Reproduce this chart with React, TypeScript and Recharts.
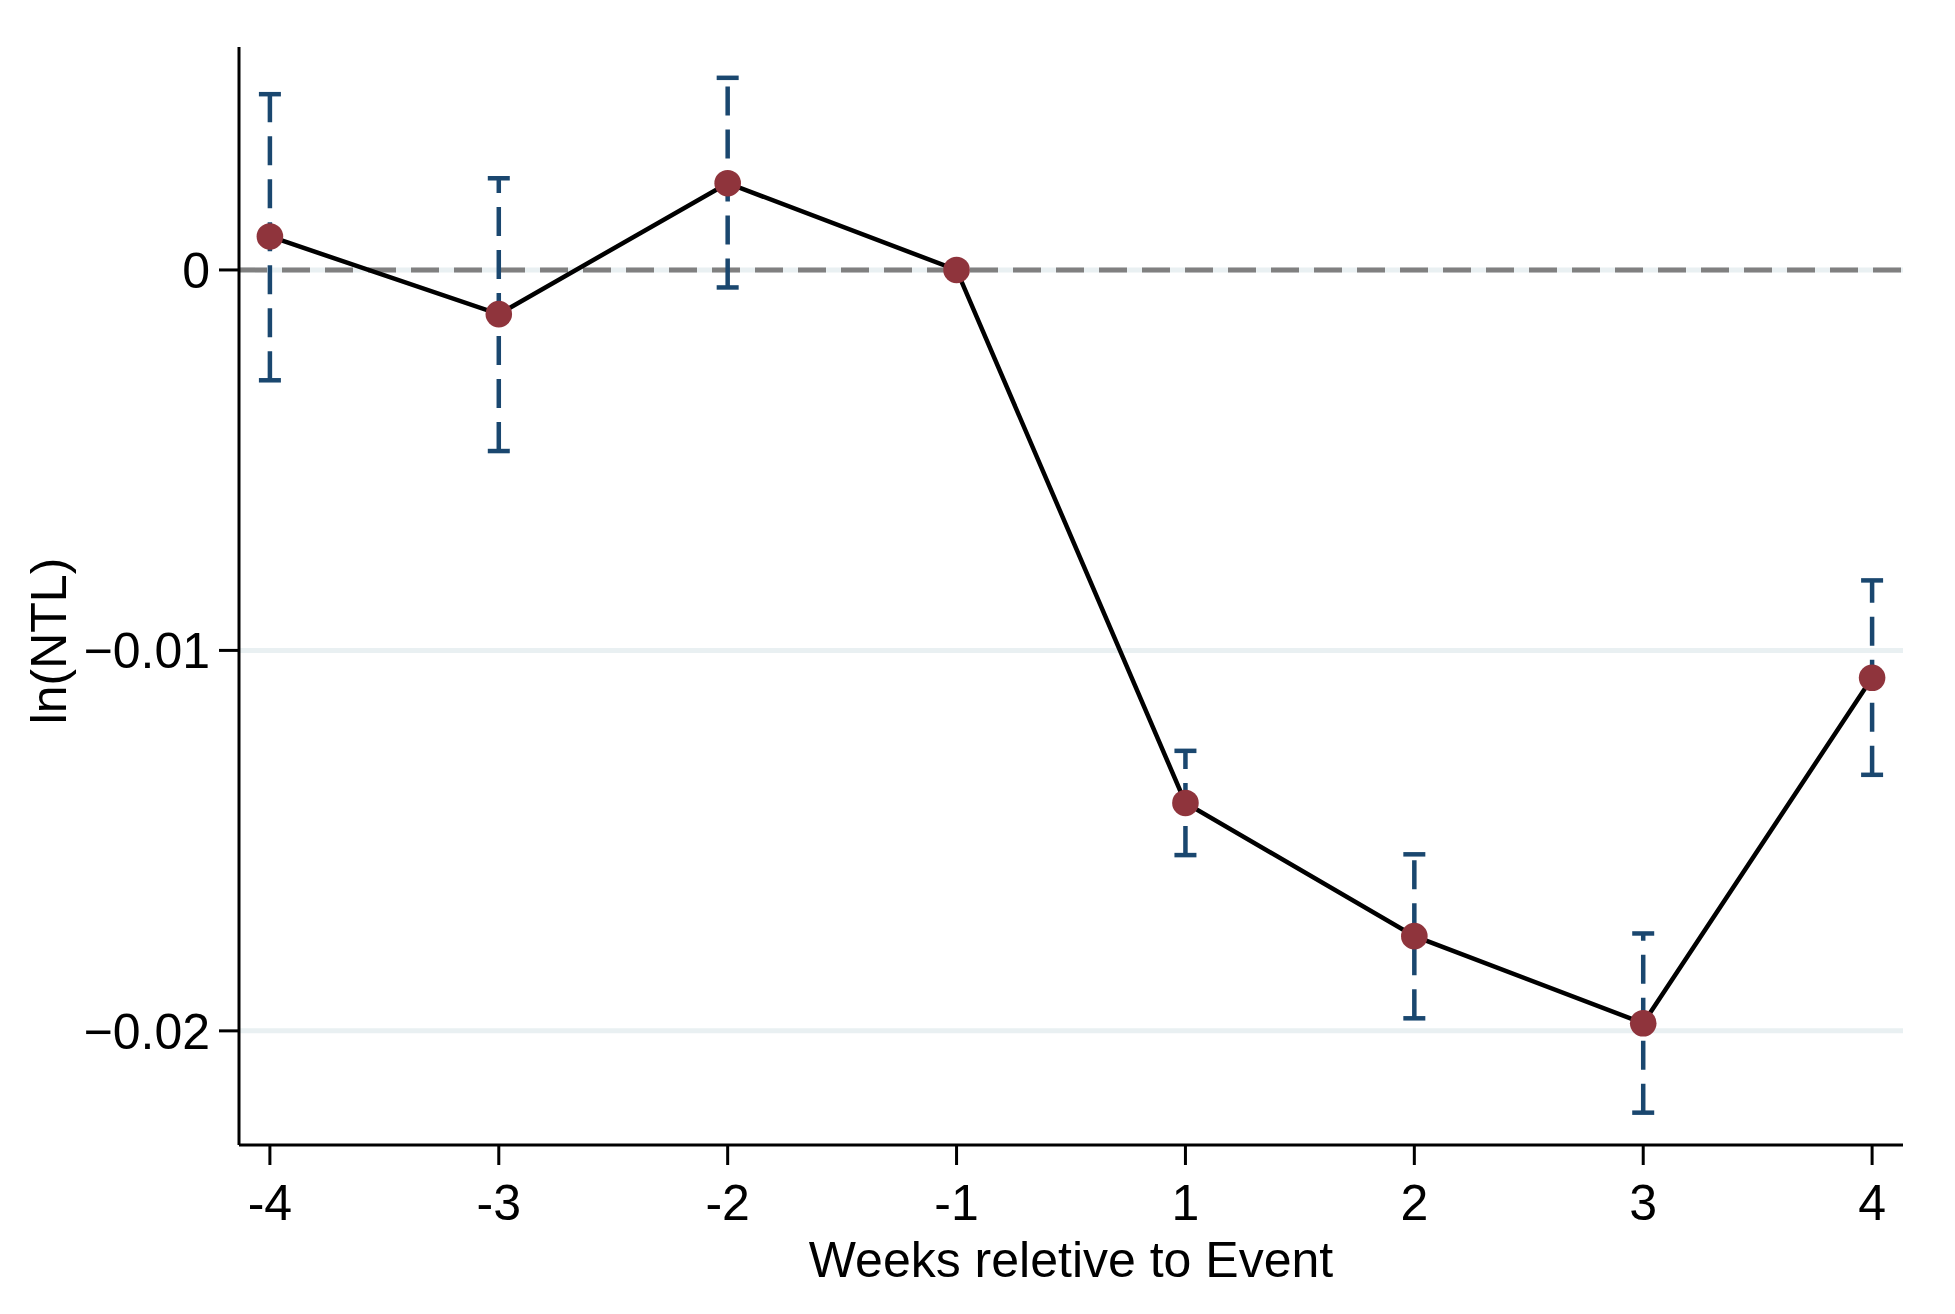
import { LineChart, Line, XAxis, YAxis, CartesianGrid, ReferenceLine, ErrorBar } from "recharts";

const weeks = ["-4", "-3", "-2", "-1", "1", "2", "3", "4"];
const coef = [0.00088, -0.00116, 0.00228, 0, -0.01401, -0.01751, -0.0198, -0.01072];
const ciLow = [-0.0029, -0.00476, -0.00046, 0, -0.01538, -0.01967, -0.02215, -0.01327];
const ciHigh = [0.00462, 0.00241, 0.00505, 0, -0.01264, -0.01536, -0.01744, -0.00816];
const yTicks = [-0.02, -0.01, 0];

const data = weeks.map((w, i) => ({
  idx: i,
  week: w,
  coef: coef[i],
  err: [coef[i] - ciLow[i], ciHigh[i] - coef[i]],
}));

const font = "'Liberation Sans', Arial, sans-serif";

const fmtY = (v: number) => (v === 0 ? "0" : "\u2212" + Math.abs(v).toFixed(2));

const Dot = (props: any) => {
  const { cx, cy } = props;
  if (cx == null || cy == null) return null;
  return <circle cx={cx} cy={cy} r={13.3} fill="#8f343c" />;
};

export default function App() {
  return (
    <div style={{ position: "absolute", left: 0, top: 0, background: "#fff" }}>
      <LineChart
        width={1955}
        height={1314}
        data={data}
        margin={{ top: 47, right: 52, bottom: 0, left: 0 }}
        style={{ fontFamily: font }}
      >
        <CartesianGrid
          horizontal
          vertical={false}
          horizontalValues={yTicks}
          stroke="#e9f0f2"
          strokeWidth={5}
        />
        <XAxis
          type="number"
          dataKey="idx"
          domain={[-0.135, 7.135]}
          allowDataOverflow
          ticks={[0, 1, 2, 3, 4, 5, 6, 7]}
          tickFormatter={(i: number) => weeks[i]}
          height={169}
          tickSize={20}
          tickMargin={19}
          tick={{ fill: "#000", fontSize: 50, fontFamily: font }}
          axisLine={{ stroke: "#000", strokeWidth: 3 }}
          tickLine={{ stroke: "#000", strokeWidth: 3 }}
          label={{
            content: () => (
              <text x={1071} y={1277} textAnchor="middle" fontSize={50} fill="#000" fontFamily={font}>
                Weeks reletive to Event
              </text>
            ),
          }}
        />
        <YAxis
          type="number"
          domain={[-0.023, 0.00586]}
          allowDataOverflow
          ticks={yTicks}
          tickFormatter={fmtY}
          width={239}
          tickSize={20}
          tickMargin={9}
          tick={{ fill: "#000", fontSize: 50, fontFamily: font }}
          axisLine={{ stroke: "#000", strokeWidth: 3 }}
          tickLine={{ stroke: "#000", strokeWidth: 3 }}
          label={{
            content: () => (
              <text
                x={66}
                y={641}
                transform="rotate(-90 66 641)"
                textAnchor="middle"
                fontSize={50}
                fill="#000"
                fontFamily={font}
              >
                ln(NTL)
              </text>
            ),
          }}
        />
        <ReferenceLine y={0} stroke="#808080" strokeWidth={5} strokeDasharray="28 15" />
        <Line
          type="linear"
          dataKey="coef"
          stroke="#000"
          strokeWidth={4.5}
          dot={<Dot />}
          activeDot={false}
          isAnimationActive={false}
        >
          <ErrorBar
            dataKey="err"
            width={11}
            stroke="#1a476f"
            strokeWidth={4.5}
            strokeDasharray="29 14"
            isAnimationActive={false}
          />
        </Line>
      </LineChart>
    </div>
  );
}
